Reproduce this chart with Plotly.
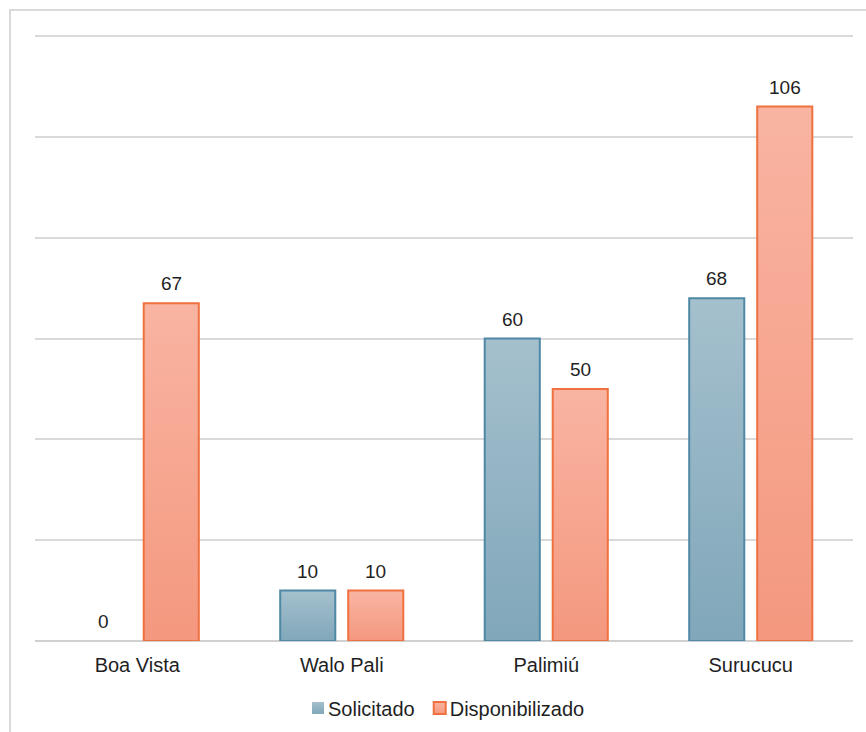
import plotly.graph_objects as go

# Chart data
categories = ["Boa Vista", "Walo Pali", "Palimiú", "Surucucu"]
solicitado = [0, 10, 60, 68]
disponibilizado = [67, 10, 50, 106]
y_ticks = [0, 20, 40, 60, 80, 100, 120]

FONT = "Liberation Sans, Arial, sans-serif"
TEXT_COLOR = "#1F1F1F"
GRID = "#D9D9D9"
BARGAP = 0.335
BARGROUPGAP = 0.19

series = [
    ("Solicitado", solicitado, "#93B4C4", "#4F88A5"),
    ("Disponibilizado", disponibilizado, "#F7A690", "#F0703F"),
]

fig = go.Figure()
for name, vals, fill, edge in series:
    fig.add_trace(go.Bar(
        name=name, x=categories, y=vals,
        marker=dict(color=fill,
                    line=dict(color=edge, width=[0 if v == 0 else 2 for v in vals])),
        hoverinfo="skip",
    ))

# Value labels above each bar, centred on the grouped bar slots
slot = (1 - BARGAP) / len(series)
annotations = []
for k, (name, vals, _, _) in enumerate(series):
    offset = (k - (len(series) - 1) / 2) * slot
    for i, v in enumerate(vals):
        annotations.append(dict(
            x=i + offset, y=v, xref="x", yref="y", text=str(v),
            showarrow=False, yanchor="bottom", yshift=7,
            font=dict(family=FONT, size=19, color=TEXT_COLOR),
        ))

fig.update_layout(
    width=866, height=732,
    margin=dict(l=35, r=13, t=34, b=91, autoexpand=False),
    paper_bgcolor="white", plot_bgcolor="white",
    barmode="group", bargap=BARGAP, bargroupgap=BARGROUPGAP,
    font=dict(family=FONT, size=20, color=TEXT_COLOR),
    showlegend=True,
    legend=dict(orientation="h", x=0.5, xanchor="center",
                yref="container", y=(732 - 708) / 732, yanchor="middle",
                font=dict(family=FONT, size=20, color=TEXT_COLOR),
                itemwidth=30, traceorder="normal"),
    xaxis=dict(showgrid=False, showline=False, ticks="", automargin=False,
               ticklabelstandoff=10,
               tickfont=dict(family=FONT, size=20, color=TEXT_COLOR)),
    yaxis=dict(range=[0, 120.4], tickvals=y_ticks, showticklabels=False,
               showgrid=True, gridcolor=GRID, gridwidth=2, automargin=False,
               zeroline=True, zerolinecolor="#D0D0D0", zerolinewidth=2,
               showline=False, ticks=""),
    annotations=annotations,
    shapes=[dict(type="rect", xref="paper", yref="paper",
                 x0=-25 / 818, x1=1.05, y0=-0.3, y1=1 + 24 / 607,
                 line=dict(color="#D9D9D9", width=2), fillcolor="rgba(0,0,0,0)",
                 layer="below")],
)

# Vertical gradient fill for the bars and a tighter legend, applied after rendering
post = """
var gd = document.getElementsByClassName('plotly-graph-div')[0];
function parseT(el){
  var t = el.getAttribute('transform') || '';
  var m = t.match(/translate\\(\\s*([-\\d.e]+)[ ,]+([-\\d.e]+)\\s*\\)/);
  return m ? [parseFloat(m[1]), parseFloat(m[2])] : [0, 0];
}
function restyleChart(){
  var svg = gd.querySelector('svg.main-svg');
  var ns = 'http://www.w3.org/2000/svg';
  var defs = svg.querySelector('defs') || svg.insertBefore(document.createElementNS(ns,'defs'), svg.firstChild);
  var specs = [['gradSol', '#A5C0CD', '#80A7BA'], ['gradDisp', '#F9B4A2', '#F4987F']];
  specs.forEach(function(s){
    if (document.getElementById(s[0])) return;
    var g = document.createElementNS(ns,'linearGradient');
    g.setAttribute('id', s[0]); g.setAttribute('x1','0'); g.setAttribute('y1','0');
    g.setAttribute('x2','0'); g.setAttribute('y2','1');
    [[0, s[1]], [1, s[2]]].forEach(function(st){
      var stop = document.createElementNS(ns,'stop');
      stop.setAttribute('offset', st[0]); stop.setAttribute('stop-color', st[1]);
      g.appendChild(stop);
    });
    defs.appendChild(g);
  });
  gd.querySelectorAll('g.trace.bars').forEach(function(t, i){
    t.querySelectorAll('path').forEach(function(p){
      p.style.fill = 'url(#' + specs[i][0] + ')';
    });
  });
  var legend = gd.querySelector('g.legend');
  if (legend && !legend.getAttribute('data-tight')) {
    legend.setAttribute('data-tight', '1');
    var shift = 10;
    var items = legend.querySelectorAll('g.traces');
    items.forEach(function(item, i){
      var txt = item.querySelector('text.legendtext');
      txt.setAttribute('x', parseFloat(txt.getAttribute('x')) - shift);
      var pts = item.querySelectorAll('g.legendpoints path');
      pts.forEach(function(p){
        p.style.fill = 'url(#' + specs[i][0] + ')';
      });
      var tr = parseT(item);
      item.setAttribute('transform', 'translate(' + (tr[0] - shift * i) + ',' + tr[1] + ')');
    });
    var lt = parseT(legend);
    legend.setAttribute('transform', 'translate(' + (lt[0] + shift * (items.length) / 2) + ',' + lt[1] + ')');
  }
}
restyleChart();
gd.on('plotly_afterplot', restyleChart);
"""

fig.write_html("out.html", post_script=post)
